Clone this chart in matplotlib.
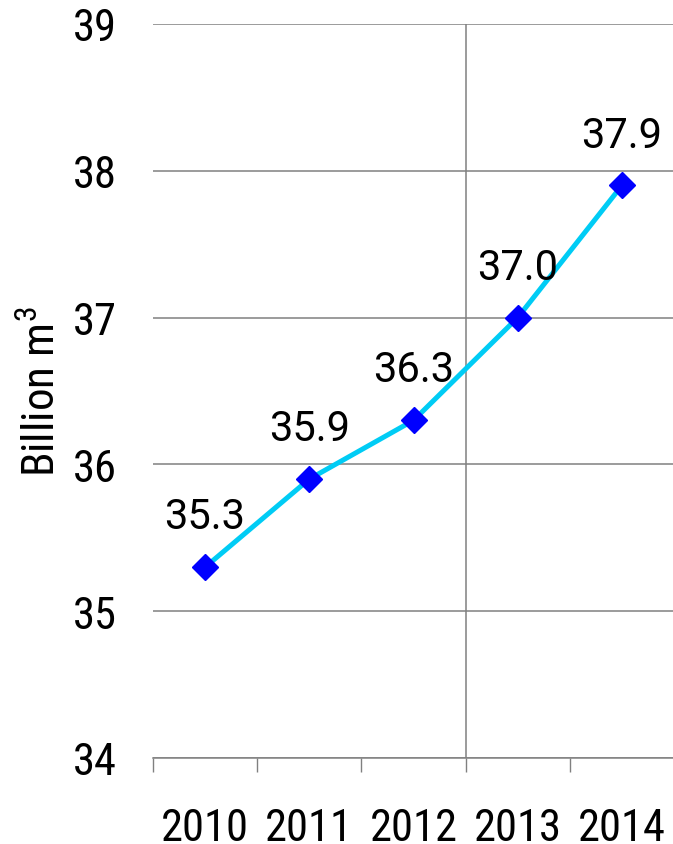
import matplotlib
matplotlib.use("Agg")
import matplotlib.pyplot as plt

years = ["2010", "2011", "2012", "2013", "2014"]
volumes = [35.3, 35.9, 36.3, 37.0, 37.9]
value_labels = ["35.3", "35.9", "36.3", "37.0", "37.9"]
y_ticks = [34, 35, 36, 37, 38, 39]

plt.rcParams['font.family'] = ['Roboto Condensed', 'DejaVu Sans']
plt.rcParams['mathtext.fontset'] = 'custom'
plt.rcParams['mathtext.rm'] = 'Roboto Condensed'
plt.rcParams['mathtext.it'] = 'Roboto Condensed'

GRID = '#808080'

fig = plt.figure(figsize=(6.73, 8.45), dpi=100)
ax = fig.add_axes([153 / 673, 1 - 759 / 845, 521 / 673, (759 - 25) / 845])

x = list(range(len(years)))
ax.plot(x, volumes, color='#00CCF5', lw=3.6, zorder=3,
        marker='D', markersize=13, markerfacecolor='#0000FF',
        markeredgecolor='#0000FF')

# value labels a little wider than the axis text
for xi, v, lab in zip(x, volumes, value_labels):
    ax.annotate(lab, (xi, v), xytext=(0, 28), textcoords='offset points',
                ha='center', va='baseline', fontsize=30,
                family=['Roboto', 'DejaVu Sans'], zorder=4)

ax.set_xlim(-0.5, 4.5)
ax.set_ylim(34, 39)
ax.set_yticks(y_ticks)
ax.set_yticklabels([str(t) for t in y_ticks], fontsize=32)
ax.tick_params(axis='y', length=0, pad=26)
ax.yaxis.grid(True, color=GRID, lw=1.1)

# category boundaries carry the tick marks, labels sit on the category centres
ax.set_xticks([-0.5, 0.5, 1.5, 2.5, 3.5, 4.5])
ax.set_xticklabels([])
ax.set_xticks(x, minor=True)
ax.set_xticklabels(years, minor=True, fontsize=32)
ax.tick_params(axis='x', which='major', length=10, width=1, color=GRID)
ax.tick_params(axis='x', which='minor', length=0, pad=35)
ax.axvline(2.5, color=GRID, lw=1.1)

for side in ['left', 'top', 'right']:
    ax.spines[side].set_visible(False)
ax.spines['bottom'].set_color(GRID)
ax.spines['bottom'].set_linewidth(1.1)

ax.set_ylabel(r'Billion m$^{3}$', fontsize=32.5, va='center')
ax.yaxis.set_label_coords((42 - 153) / 521, 0.5)

fig.savefig('out.png', dpi=100)
